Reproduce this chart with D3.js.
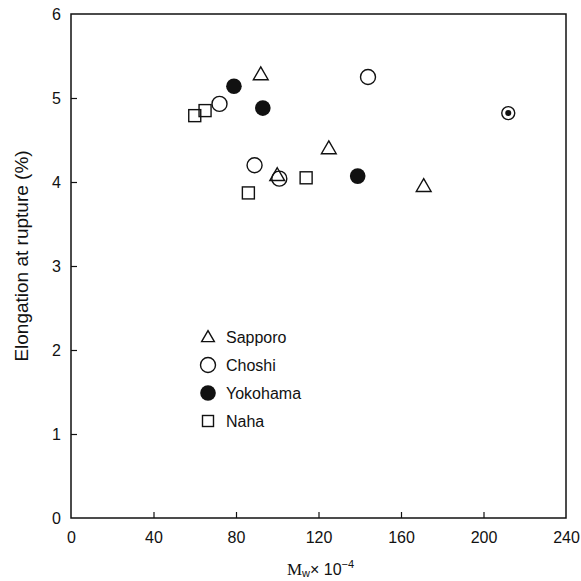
<!DOCTYPE html>
<html>
<head>
<meta charset="utf-8">
<script src="https://cdn.jsdelivr.net/npm/d3@7"></script>
<style>
  html, body { margin: 0; padding: 0; background: #fff; }
  svg { display: block; }
  text { font-family: "Liberation Sans", Arial, sans-serif; fill: #111; }
</style>
</head>
<body>
<svg id="chart" width="581" height="581"></svg>
<script>
// Molecular weight (Mw x 10^-4) and elongation at rupture (%) per sampling site
const sapporo  = [[92, 5.28], [100, 4.08], [125, 4.40], [171, 3.95]];
const choshi   = [[72, 4.93], [89, 4.20], [101, 4.04], [144, 5.25]];
const yokohama = [[79, 5.14], [93, 4.88], [139, 4.07]];
const naha     = [[60, 4.79], [65, 4.85], [86, 3.87], [114, 4.05]];
const marked   = [[212, 4.82]];

const seriesNames = ["Sapporo", "Choshi", "Yokohama", "Naha"];
const xTicks = [0, 40, 80, 120, 160, 200, 240];
const yTicks = [0, 1, 2, 3, 4, 5, 6];

const svg = d3.select("#chart");
const plotLeft = 71, plotRight = 566, plotTop = 14, plotBottom = 518;

const x = d3.scaleLinear().domain([0, 240]).range([plotLeft, plotRight]);
const y = d3.scaleLinear().domain([0, 6]).range([plotBottom, plotTop]);

// frame
svg.append("rect")
  .attr("x", plotLeft).attr("y", plotTop)
  .attr("width", plotRight - plotLeft).attr("height", plotBottom - plotTop)
  .attr("fill", "none").attr("stroke", "#111").attr("stroke-width", 1.5);

// axes with inward ticks
const xAxis = svg.append("g").attr("transform", `translate(0,${plotBottom})`)
  .call(d3.axisBottom(x).tickValues(xTicks).tickFormat(d3.format("d"))
    .tickSize(-6).tickPadding(14));
const yAxis = svg.append("g").attr("transform", `translate(${plotLeft},0)`)
  .call(d3.axisLeft(y).tickValues(yTicks).tickFormat(d3.format("d"))
    .tickSize(-6).tickPadding(10));
[xAxis, yAxis].forEach(g => {
  g.select(".domain").remove();
  g.selectAll(".tick line").attr("stroke", "#111").attr("stroke-width", 1.2);
  g.selectAll(".tick text").attr("font-size", 16)
    .attr("font-family", "'Liberation Sans', Arial, sans-serif").attr("fill", "#111");
});
xAxis.selectAll(".tick").filter(d => d === 0 || d === 240).select("line").remove();
yAxis.selectAll(".tick").filter(d => d === 0 || d === 6).select("line").remove();

// marker shapes
const triPath = d3.symbol().type(d3.symbolTriangle);
const sw = 1.4;
function drawMarker(g, type, small) {
  if (type === "Sapporo") {
    g.append("path").attr("d", triPath.size(small ? 70 : 95)()).attr("transform", "translate(0,1)")
      .attr("fill", "none").attr("stroke", "#111").attr("stroke-width", sw);
  } else if (type === "Choshi") {
    g.append("circle").attr("r", 7.5).attr("fill", "none")
      .attr("stroke", "#111").attr("stroke-width", sw);
  } else if (type === "Yokohama") {
    g.append("circle").attr("r", 7.8).attr("fill", "#111");
  } else if (type === "Naha") {
    const h = small ? 5.5 : 6;
    g.append("rect").attr("x", -h).attr("y", -h).attr("width", 2 * h).attr("height", 2 * h)
      .attr("fill", "none").attr("stroke", "#111").attr("stroke-width", sw);
  } else if (type === "marked") {
    g.append("circle").attr("r", 6.5).attr("fill", "none")
      .attr("stroke", "#111").attr("stroke-width", sw);
    g.append("circle").attr("r", 3).attr("fill", "#111");
  }
}

const groups = [
  ["Choshi", choshi], ["Naha", naha], ["Yokohama", yokohama],
  ["Sapporo", sapporo], ["marked", marked]
];
groups.forEach(([type, data]) => {
  svg.append("g").selectAll("g").data(data).join("g")
    .attr("transform", d => `translate(${x(d[0])},${y(d[1])})`)
    .each(function() { drawMarker(d3.select(this), type, false); });
});

// legend
const legend = svg.append("g").attr("transform", "translate(208,337)");
seriesNames.forEach((name, i) => {
  const row = legend.append("g").attr("transform", `translate(0,${i * 28})`);
  drawMarker(row.append("g"), name, true);
  row.append("text").attr("x", 18).attr("y", 6).attr("font-size", 16).text(name);
});

// axis titles
svg.append("text")
  .attr("transform", `translate(28,256) rotate(-90)`)
  .attr("text-anchor", "middle").attr("font-size", 19)
  .text("Elongation at rupture (%)");

const xt = svg.append("text").attr("x", (plotLeft + plotRight) / 2 + 2).attr("y", 575)
  .attr("text-anchor", "middle").attr("font-size", 16);
xt.append("tspan").attr("font-family", "'Liberation Serif', serif").attr("font-size", 17).text("M");
xt.append("tspan").attr("font-size", 11).attr("dy", 2).text("w");
xt.append("tspan").attr("dy", -2).text("\u00d7 10");
xt.append("tspan").attr("font-size", 11).attr("dy", -7).text("\u22124");
</script>
</body>
</html>
